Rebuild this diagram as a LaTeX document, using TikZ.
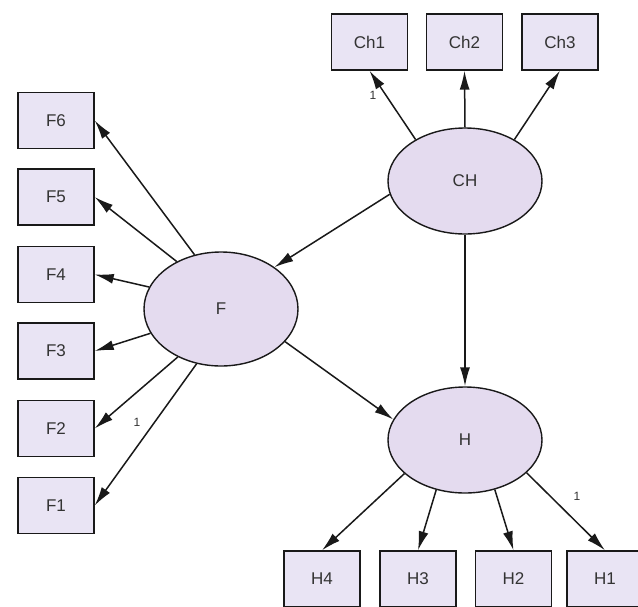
\documentclass[tikz,border=0pt]{standalone}
\usepackage{fontspec}
\setmainfont{Liberation Sans}
\usetikzlibrary{arrows.meta,shapes.geometric}
\definecolor{boxfill}{HTML}{E9E4F4}
\definecolor{ellfill}{HTML}{E4DBEF}
\tikzset{
  obs/.style={draw=black!90, line width=1.4pt, fill=boxfill, minimum width=76pt, minimum height=56pt, inner sep=0pt, font=\fontsize{17}{19}\selectfont, text=black!80},
  lat/.style={draw=black!90, line width=1.4pt, fill=ellfill, ellipse, minimum width=154pt, minimum height=106pt, inner sep=0pt, font=\fontsize{17}{19}\selectfont, text=black!80},
  path/.style={draw=black!90, line width=1.5pt, -{Latex[length=19pt,width=10pt]}},
  one/.style={font=\fontsize{12}{14}\selectfont, inner sep=0pt, text=black!80}
}
\begin{document}
\begin{tikzpicture}[x=1pt,y=-1pt]
\useasboundingbox (0,0) rectangle (638,606);
\fill[white] (0,0) rectangle (638,606);
% observed boxes
\node[obs] (Ch1) at (369.5,42) {Ch1};
\node[obs] (Ch2) at (464.5,42) {Ch2};
\node[obs] (Ch3) at (560,42) {Ch3};
\node[obs] (F6) at (56,120.5) {F6};
\node[obs] (F5) at (56,197) {F5};
\node[obs] (F4) at (56,274.5) {F4};
\node[obs] (F3) at (56,351) {F3};
\node[obs] (F2) at (56,428.5) {F2};
\node[obs] (F1) at (56,505.5) {F1};
\node[obs] (H4) at (322,579) {H4};
\node[obs] (H3) at (418,579) {H3};
\node[obs] (H2) at (513.5,579) {H2};
\node[obs] (H1) at (605,579) {H1};
% latent ellipses
\node[lat] (CH) at (465,181) {CH};
\node[lat, minimum height=114pt] (F) at (221,309) {F};
\node[lat] (H) at (465,440) {H};
% paths
\draw[path] (CH.140) -- (Ch1.south);
\draw[path] (CH.north) -- (Ch2.south);
\draw[path] (CH.40) -- (Ch3.south);
\draw[path] (CH.190) -- (F.38);
\draw[path] (CH.south) -- (H.north);
\draw[path] (F.-27) -- (H.164);
\draw[path] (F.116) -- (F6.east);
\draw[path] (F.133) -- (F5.east);
\draw[path] (F.163) -- (F4.east);
\draw[path] (F.199) -- (F3.east);
\draw[path] (F.228) -- (F2.east);
\draw[path] (F.246) -- (F1.east);
\draw[path] (H.209) -- (H4.north);
\draw[path] (H.240) -- (H3.north);
\draw[path] (H.301) -- (H2.north);
\draw[path] (H.332) -- (H1.north);
% labels
\node[one] (l1) at (373,95) {1};
\node[one] (l2) at (137,422) {1};
\node[one] (l3) at (577,496) {1};
\end{tikzpicture}
\end{document}
